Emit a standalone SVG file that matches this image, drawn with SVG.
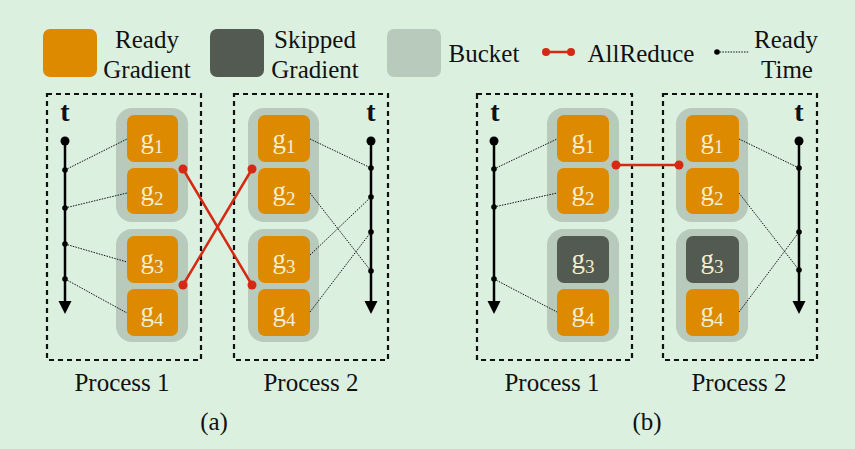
<svg xmlns="http://www.w3.org/2000/svg" xmlns:xlink="http://www.w3.org/1999/xlink" width="855" height="449" viewBox="0 0 855 449">
<defs>
<style>
.bg{fill:#dcf0e0}
.rdy{fill:#dd8a00}
.skp{fill:#535a52}
.bkt{fill:#b8cabb}
.lbl{font-family:"Liberation Serif","Times New Roman",serif;font-size:25px;fill:#111;text-anchor:middle}
.proc{font-family:"Liberation Serif","Times New Roman",serif;font-size:25px;fill:#111;text-anchor:middle}
.tl{font-family:"Liberation Serif","Times New Roman",serif;font-size:28px;font-weight:bold;fill:#111;text-anchor:middle}
.g{font-family:"Liberation Serif","Times New Roman",serif;font-size:27px;fill:#f3efcf;text-anchor:middle}
.sub{font-size:19px}
.box{fill:none;stroke:#111;stroke-width:2.2;stroke-dasharray:5,4}
.axis{stroke:#000;stroke-width:2.5;fill:none}
.dot{stroke:#111;stroke-width:1;stroke-dasharray:1.5,1.2;fill:none}
.ar{stroke:#d42a14;stroke-width:2.5;fill:none}
.rd{fill:#d42a14}
.bd{fill:#000}
</style>
<path id="ah" d="M-6.5,-1 L6.5,-1 L0,12 Z" fill="#000"/>
</defs>
<rect class="bg" x="0" y="0" width="855" height="449"/>

<g id="legend">
<rect class="rdy" x="43" y="29" width="54" height="48" rx="7"/>
<text class="lbl" x="147" y="48">Ready</text>
<text class="lbl" x="147" y="78">Gradient</text>
<rect class="skp" x="210" y="29" width="54" height="48" rx="7"/>
<text class="lbl" x="315" y="48">Skipped</text>
<text class="lbl" x="315" y="78">Gradient</text>
<rect class="bkt" x="387" y="29" width="54" height="48" rx="7"/>
<text class="lbl" x="484" y="62">Bucket</text>
<line class="ar" x1="546" y1="52" x2="571" y2="52"/>
<circle class="rd" cx="546" cy="52" r="4"/>
<circle class="rd" cx="571" cy="52" r="4"/>
<text class="lbl" x="641" y="62">AllReduce</text>
<line class="dot" x1="717" y1="52" x2="749" y2="52"/>
<circle class="bd" cx="717" cy="52" r="2.8"/>
<text class="lbl" x="786" y="48">Ready</text>
<text class="lbl" x="787" y="78">Time</text>
</g>

<!-- Panel (a) -->
<g id="a-p1">
<rect class="box" x="47" y="94" width="154" height="266"/>
<text class="tl" x="65" y="121">t</text>
<text class="proc" x="122" y="391">Process 1</text>
<line class="axis" x1="65" y1="141" x2="65" y2="303"/>
<use xlink:href="#ah" href="#ah" x="65" y="302"/>
<circle class="bd" cx="65" cy="141" r="4.5"/>
<circle class="bd" cx="65" cy="170" r="2.8"/>
<circle class="bd" cx="65" cy="208" r="2.8"/>
<circle class="bd" cx="65" cy="244" r="2.8"/>
<circle class="bd" cx="65" cy="279" r="2.8"/>
</g>
<g id="a-p1-bucket1">
<rect class="bkt" x="116" y="108" width="72" height="114" rx="16"/>
</g>
<g id="a-p1-bucket2">
<rect class="bkt" x="116" y="229" width="72" height="113" rx="16"/>
</g>
<g id="a-p1-g1"><rect class="rdy" x="127" y="115" width="51" height="47" rx="7"/><text class="g" x="152" y="148">g<tspan class="sub" dy="5">1</tspan></text></g>
<g id="a-p1-g2"><rect class="rdy" x="127" y="168" width="51" height="46" rx="7"/><text class="g" x="152" y="200">g<tspan class="sub" dy="5">2</tspan></text></g>
<g id="a-p1-g3"><rect class="rdy" x="127" y="236" width="51" height="47" rx="7"/><text class="g" x="152" y="268">g<tspan class="sub" dy="5">3</tspan></text></g>
<g id="a-p1-g4"><rect class="rdy" x="127" y="289" width="51" height="47" rx="7"/><text class="g" x="152" y="321">g<tspan class="sub" dy="5">4</tspan></text></g>

<g id="a-p2">
<rect class="box" x="234" y="94" width="154" height="266"/>
<text class="tl" x="371" y="121">t</text>
<text class="proc" x="311" y="391">Process 2</text>
<line class="axis" x1="371" y1="141" x2="371" y2="303"/>
<use xlink:href="#ah" href="#ah" x="371" y="302"/>
<circle class="bd" cx="371" cy="141" r="4.5"/>
<circle class="bd" cx="371" cy="168" r="2.8"/>
<circle class="bd" cx="371" cy="197" r="2.8"/>
<circle class="bd" cx="371" cy="232" r="2.8"/>
<circle class="bd" cx="371" cy="271" r="2.8"/>
</g>
<g id="a-p2-bucket1">
<rect class="bkt" x="248" y="108" width="71" height="114" rx="16"/>
</g>
<g id="a-p2-bucket2">
<rect class="bkt" x="248" y="229" width="71" height="113" rx="16"/>
</g>
<g id="a-p2-g1"><rect class="rdy" x="258" y="115" width="52" height="47" rx="7"/><text class="g" x="284" y="148">g<tspan class="sub" dy="5">1</tspan></text></g>
<g id="a-p2-g2"><rect class="rdy" x="258" y="168" width="52" height="46" rx="7"/><text class="g" x="284" y="200">g<tspan class="sub" dy="5">2</tspan></text></g>
<g id="a-p2-g3"><rect class="rdy" x="258" y="236" width="52" height="47" rx="7"/><text class="g" x="284" y="268">g<tspan class="sub" dy="5">3</tspan></text></g>
<g id="a-p2-g4"><rect class="rdy" x="258" y="289" width="52" height="47" rx="7"/><text class="g" x="284" y="321">g<tspan class="sub" dy="5">4</tspan></text></g>

<text class="proc" x="214" y="430">(a)</text>

<!-- Panel (b) -->
<g id="b-p1">
<rect class="box" x="477" y="94" width="155" height="266"/>
<text class="tl" x="495" y="121">t</text>
<text class="proc" x="552" y="391">Process 1</text>
<line class="axis" x1="494" y1="141" x2="494" y2="303"/>
<use xlink:href="#ah" href="#ah" x="494" y="302"/>
<circle class="bd" cx="494" cy="141" r="4.5"/>
<circle class="bd" cx="494" cy="169" r="2.8"/>
<circle class="bd" cx="494" cy="207" r="2.8"/>
<circle class="bd" cx="494" cy="279" r="2.8"/>
</g>
<g id="b-p1-bucket1">
<rect class="bkt" x="547" y="108" width="72" height="114" rx="16"/>
</g>
<g id="b-p1-bucket2">
<rect class="bkt" x="547" y="229" width="72" height="113" rx="16"/>
</g>
<g id="b-p1-g1"><rect class="rdy" x="557" y="115" width="52" height="47" rx="7"/><text class="g" x="583" y="148">g<tspan class="sub" dy="5">1</tspan></text></g>
<g id="b-p1-g2"><rect class="rdy" x="557" y="168" width="52" height="46" rx="7"/><text class="g" x="583" y="200">g<tspan class="sub" dy="5">2</tspan></text></g>
<g id="b-p1-g3"><rect class="skp" x="557" y="236" width="52" height="47" rx="7"/><text class="g" x="583" y="268">g<tspan class="sub" dy="5">3</tspan></text></g>
<g id="b-p1-g4"><rect class="rdy" x="557" y="289" width="52" height="47" rx="7"/><text class="g" x="583" y="321">g<tspan class="sub" dy="5">4</tspan></text></g>

<g id="b-p2">
<rect class="box" x="663" y="94" width="154" height="266"/>
<text class="tl" x="799" y="121">t</text>
<text class="proc" x="739" y="391">Process 2</text>
<line class="axis" x1="799" y1="141" x2="799" y2="303"/>
<use xlink:href="#ah" href="#ah" x="799" y="302"/>
<circle class="bd" cx="799" cy="141" r="4.5"/>
<circle class="bd" cx="799" cy="168" r="2.8"/>
<circle class="bd" cx="799" cy="232" r="2.8"/>
<circle class="bd" cx="799" cy="270" r="2.8"/>
</g>
<g id="b-p2-bucket1">
<rect class="bkt" x="676" y="108" width="72" height="114" rx="16"/>
</g>
<g id="b-p2-bucket2">
<rect class="bkt" x="676" y="229" width="72" height="113" rx="16"/>
</g>
<g id="b-p2-g1"><rect class="rdy" x="686" y="115" width="53" height="47" rx="7"/><text class="g" x="712" y="148">g<tspan class="sub" dy="5">1</tspan></text></g>
<g id="b-p2-g2"><rect class="rdy" x="686" y="168" width="53" height="46" rx="7"/><text class="g" x="712" y="200">g<tspan class="sub" dy="5">2</tspan></text></g>
<g id="b-p2-g3"><rect class="skp" x="686" y="236" width="53" height="47" rx="7"/><text class="g" x="712" y="268">g<tspan class="sub" dy="5">3</tspan></text></g>
<g id="b-p2-g4"><rect class="rdy" x="686" y="289" width="53" height="47" rx="7"/><text class="g" x="712" y="321">g<tspan class="sub" dy="5">4</tspan></text></g>

<text class="proc" x="647" y="430">(b)</text>

<g id="connectors">
<!-- ready time (a) P1 -->
<line class="dot" x1="65" y1="170" x2="127" y2="139"/>
<line class="dot" x1="65" y1="208" x2="127" y2="193"/>
<line class="dot" x1="65" y1="244" x2="127" y2="262"/>
<line class="dot" x1="65" y1="279" x2="127" y2="313"/>
<!-- ready time (a) P2 -->
<line class="dot" x1="310" y1="139" x2="371" y2="168"/>
<line class="dot" x1="310" y1="193" x2="371" y2="271"/>
<line class="dot" x1="310" y1="255" x2="371" y2="197"/>
<line class="dot" x1="310" y1="312" x2="371" y2="232"/>
<!-- allreduce (a) -->
<line class="ar" x1="183" y1="169" x2="252" y2="285"/>
<line class="ar" x1="183" y1="285" x2="252" y2="169"/>
<circle class="rd" cx="183" cy="169" r="4.5"/>
<circle class="rd" cx="183" cy="285" r="4.5"/>
<circle class="rd" cx="252" cy="169" r="4.5"/>
<circle class="rd" cx="252" cy="285" r="4.5"/>
<!-- ready time (b) P1 -->
<line class="dot" x1="494" y1="169" x2="557" y2="139"/>
<line class="dot" x1="494" y1="207" x2="557" y2="193"/>
<line class="dot" x1="494" y1="279" x2="557" y2="312"/>
<!-- ready time (b) P2 -->
<line class="dot" x1="739" y1="139" x2="799" y2="168"/>
<line class="dot" x1="739" y1="193" x2="799" y2="270"/>
<line class="dot" x1="739" y1="312" x2="799" y2="232"/>
<!-- allreduce (b) -->
<line class="ar" x1="616" y1="165" x2="679" y2="165"/>
<circle class="rd" cx="616" cy="165" r="4.5"/>
<circle class="rd" cx="679" cy="165" r="4.5"/>
</g>
</svg>
